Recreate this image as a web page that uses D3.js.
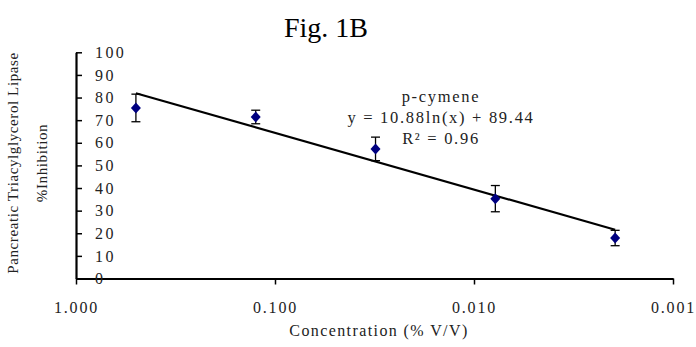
<!DOCTYPE html>
<html>
<head>
<meta charset="utf-8">
<script src="https://cdn.jsdelivr.net/npm/d3@7"></script>
<style>
  body { margin: 0; background: #fff; }
  svg text { font-family: "Liberation Serif", "Times New Roman", serif; fill: #222; }
</style>
</head>
<body>
<svg id="chart"></svg>
<script>
// concentration (%V/V) and mean inhibition with error
var conc = [0.5, 0.125, 0.03125, 0.0078125, 0.001953125];
var inhibition = [75.4, 71.4, 57.3, 35.3, 17.9];
var errs = [6.1, 3.0, 5.2, 5.8, 3.4];

var xTicks = [1, 0.1, 0.01, 0.001];
var yTicks = [0, 10, 20, 30, 40, 50, 60, 70, 80, 90, 100];

// trend line y = a ln(x) + b, as printed on the chart
var fitA = 10.88, fitB = 89.44;
var fitLabel = ["p-cymene", "y = 10.88ln(x) + 89.44", "R\u00b2 = 0.96"];

var width = 696, height = 347;

var svg = d3.select("#chart")
    .attr("width", width)
    .attr("height", height);

var x = d3.scaleLog()
    .domain([1, 0.001])
    .range([76, 673]);

var y = d3.scaleLinear()
    .domain([0, 100])
    .range([278.5, 52.3]);

// title
svg.append("text")
    .attr("x", 326)
    .attr("y", 37)
    .attr("text-anchor", "middle")
    .style("font-size", "28px")
    .style("fill", "#000")
    .text("Fig. 1B");

// x axis
var xAxis = d3.axisBottom(x)
    .tickValues(xTicks)
    .tickSize(6)
    .tickSizeOuter(0)
    .tickFormat(d3.format(".3f"));

var gx = svg.append("g")
    .attr("transform", "translate(0," + y(0) + ")")
    .call(xAxis);
gx.select(".domain").attr("stroke-width", 2.2);
gx.selectAll(".tick line").attr("stroke-width", 1.5);
gx.selectAll(".tick text")
    .attr("y", 34)
    .attr("dy", 0)
    .style("font-size", "16px")
    .style("letter-spacing", "1.8px")
    .style("font-family", "Liberation Serif, serif")
    .style("fill", "#222");

// y axis, ticks and labels on the inside
var yAxis = d3.axisRight(y)
    .tickValues(yTicks)
    .tickSize(6)
    .tickSizeOuter(0);

var gy = svg.append("g")
    .attr("transform", "translate(" + x(1) + ",0)")
    .call(yAxis);
gy.select(".domain").attr("stroke-width", 2.2);
gy.selectAll(".tick line").attr("stroke-width", 1.5);
gy.selectAll(".tick text")
    .attr("x", 19)
    .style("font-size", "16px")
    .style("letter-spacing", "2.4px")
    .style("font-family", "Liberation Serif, serif")
    .style("fill", "#222");

// axis titles
svg.append("text")
    .attr("x", 379)
    .attr("y", 336)
    .attr("text-anchor", "middle")
    .style("font-size", "16px")
    .style("letter-spacing", "1.4px")
    .text("Concentration (% V/V)");

var yt = svg.append("text")
    .attr("transform", "translate(0,163) rotate(-90)")
    .attr("text-anchor", "middle")
    .style("font-size", "15px")
    .style("letter-spacing", "0.6px");
yt.append("tspan").attr("x", 0).attr("y", 18).text("Pancreatic Triacylglycerol Lipase");
yt.append("tspan").attr("x", 0).attr("y", 47).text("%Inhibition");

// trend line
var ends = [conc[0], conc[conc.length - 1]];
var line = d3.line()
    .x(function(d) { return x(d); })
    .y(function(d) { return y(fitA * Math.log(d) + fitB); });

svg.append("path")
    .datum(ends)
    .attr("d", line)
    .attr("fill", "none")
    .attr("stroke", "#000")
    .attr("stroke-width", 2.2);

// error bars
var pts = conc.map(function(c, i) { return { c: c, v: inhibition[i], e: errs[i] }; });

var eb = svg.append("g").attr("stroke", "#000").attr("stroke-width", 1.3);
eb.selectAll(".stem").data(pts).enter().append("line")
    .attr("x1", function(d) { return x(d.c); })
    .attr("x2", function(d) { return x(d.c); })
    .attr("y1", function(d) { return y(d.v + d.e); })
    .attr("y2", function(d) { return y(d.v - d.e); });
eb.selectAll(".capTop").data(pts).enter().append("line")
    .attr("x1", function(d) { return x(d.c) - 4.5; })
    .attr("x2", function(d) { return x(d.c) + 4.5; })
    .attr("y1", function(d) { return y(d.v + d.e); })
    .attr("y2", function(d) { return y(d.v + d.e); });
eb.selectAll(".capBot").data(pts).enter().append("line")
    .attr("x1", function(d) { return x(d.c) - 4.5; })
    .attr("x2", function(d) { return x(d.c) + 4.5; })
    .attr("y1", function(d) { return y(d.v - d.e); })
    .attr("y2", function(d) { return y(d.v - d.e); });

// diamond markers
svg.selectAll(".pt").data(pts).enter().append("path")
    .attr("d", "M0,-5.5L5,0L0,5.5L-5,0Z")
    .attr("transform", function(d) { return "translate(" + x(d.c) + "," + y(d.v) + ")"; })
    .attr("fill", "#000080");

// equation label
svg.append("g").selectAll("text").data(fitLabel).enter().append("text")
    .attr("x", 441)
    .attr("y", function(d, i) { return 102 + i * 21; })
    .attr("text-anchor", "middle")
    .style("font-size", "16.5px")
    .style("letter-spacing", "1.7px")
    .text(function(d) { return d; });
</script>
</body>
</html>
